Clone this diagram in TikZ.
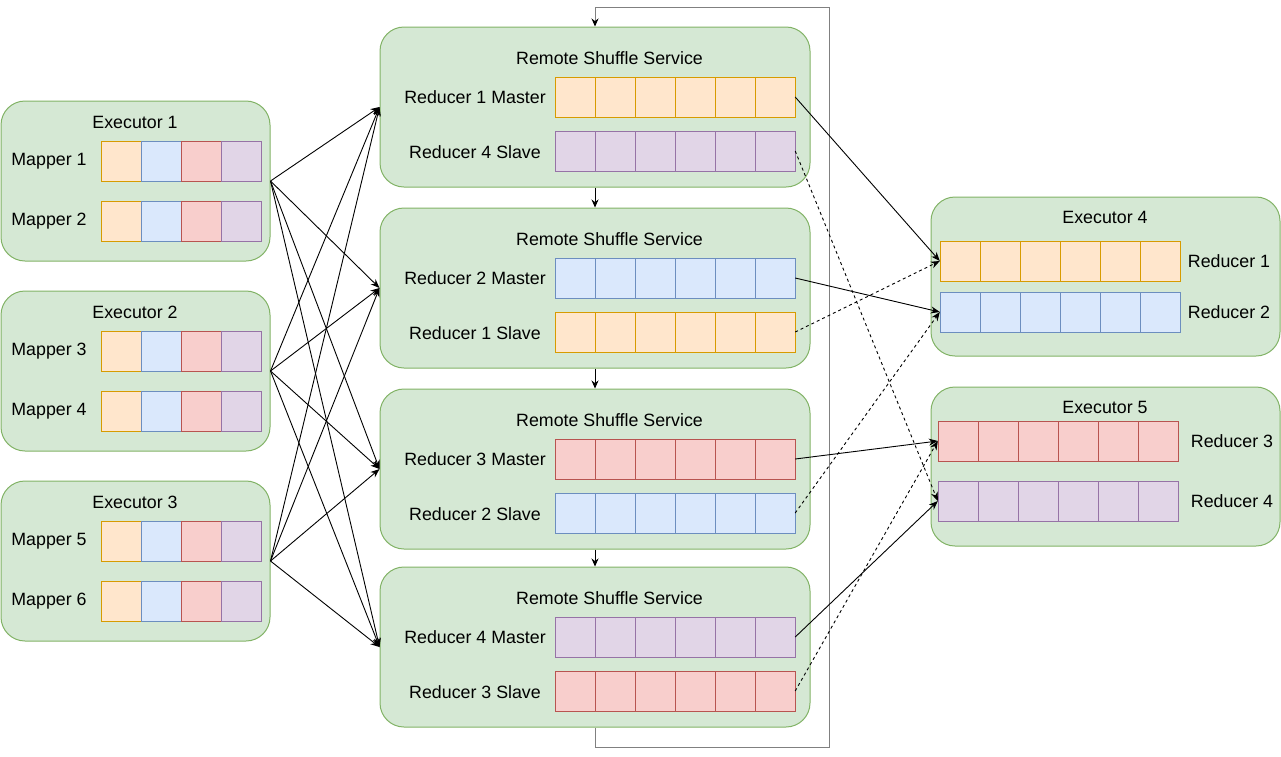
\documentclass[tikz,border=0pt]{standalone}
\usepackage{fontspec}
\setmainfont{Liberation Sans}
\usetikzlibrary{arrows.meta}
\definecolor{grF}{HTML}{D5E8D4}\definecolor{grD}{HTML}{82B366}
\definecolor{orF}{HTML}{FFE6CC}\definecolor{orD}{HTML}{D79B00}
\definecolor{blF}{HTML}{DAE8FC}\definecolor{blD}{HTML}{6C8EBF}
\definecolor{rdF}{HTML}{F8CECC}\definecolor{rdD}{HTML}{B85450}
\definecolor{puF}{HTML}{E1D5E7}\definecolor{puD}{HTML}{9673A6}
\definecolor{loopc}{HTML}{808080}
\newcommand\maprow[3]{% name, left x, centre y
  \foreach \f/\d [count=\i from 0] in {orF/orD,blF/blD,rdF/rdD,puF/puD}{
    \node[cell,fill=\f,draw=\d] (#1c\i) at (#2+20+40*\i,#3) {};}
  \node[rowbox,minimum width=160pt] (#1) at (#2+80,#3) {};}
\newcommand\redrow[5]{% name, left x, centre y, fill, draw
  \foreach \i in {0,...,5}{
    \node[cell,fill=#4,draw=#5] (#1c\i) at (#2+20+40*\i,#3) {};}
  \node[rowbox,minimum width=240pt] (#1) at (#2+120,#3) {};}
\begin{document}
\begin{tikzpicture}[x=1pt,y=-1pt,font=\fontsize{17.8}{21}\selectfont,
  box/.style={draw=grD,fill=grF,rounded corners=24pt,line width=1pt,inner sep=0pt},
  exbox/.style={box,minimum width=269pt,minimum height=160pt},
  rsbox/.style={box,minimum width=430pt,minimum height=160pt},
  cell/.style={minimum width=40pt,minimum height=40pt,inner sep=0pt,line width=1pt},
  rowbox/.style={minimum height=40pt,inner sep=0pt,draw=none},
  lbl/.style={inner sep=0pt,text=black},
  arr/.style={-{Stealth[length=9pt,width=7pt]},line width=0.9pt,black},
  dsh/.style={arr,dash pattern=on 3pt off 3pt},
  loopline/.style={draw=loopc,line width=1pt,-{Stealth[length=8pt,width=7pt,black]}}]
\useasboundingbox (0,0) rectangle (1281,756);
% left executors
\node[exbox] (ex1) at (135.5,181) {};
\node[exbox] (ex2) at (135.5,371) {};
\node[exbox] (ex3) at (135.5,561) {};
\node[lbl] (ex1t) at (135,122) {Executor 1};
\node[lbl] (ex2t) at (135,312) {Executor 2};
\node[lbl] (ex3t) at (135,502) {Executor 3};
\node[lbl] (mp1t) at (49,161) {Mapper 1};
\node[lbl] (mp2t) at (49,221) {Mapper 2};
\node[lbl] (mp3t) at (49,351) {Mapper 3};
\node[lbl] (mp4t) at (49,411) {Mapper 4};
\node[lbl] (mp5t) at (49,541) {Mapper 5};
\node[lbl] (mp6t) at (49,601) {Mapper 6};
\maprow{mp1}{101}{161}
\maprow{mp2}{101}{221}
\maprow{mp3}{101}{351}
\maprow{mp4}{101}{411}
\maprow{mp5}{101}{541}
\maprow{mp6}{101}{601}
% remote shuffle services
\node[rsbox] (rs1) at (595,107) {};
\node[rsbox] (rs2) at (595,288) {};
\node[rsbox] (rs3) at (595,469) {};
\node[rsbox] (rs4) at (595,647) {};
\node[lbl] (rs1t) at (609.5,58) {Remote Shuffle Service};
\node[lbl] (rs2t) at (609.5,239) {Remote Shuffle Service};
\node[lbl] (rs3t) at (609.5,420) {Remote Shuffle Service};
\node[lbl] (rs4t) at (609.5,598) {Remote Shuffle Service};
\node[lbl] (m1t) at (475,97) {Reducer 1 Master};
\node[lbl] (s4t) at (475,152) {Reducer 4 Slave};
\node[lbl] (m2t) at (475,278) {Reducer 2 Master};
\node[lbl] (s1t) at (475,333) {Reducer 1 Slave};
\node[lbl] (m3t) at (475,459) {Reducer 3 Master};
\node[lbl] (s2t) at (475,514) {Reducer 2 Slave};
\node[lbl] (m4t) at (475,637) {Reducer 4 Master};
\node[lbl] (s3t) at (475,692) {Reducer 3 Slave};
\redrow{m1}{555}{97}{orF}{orD}
\redrow{s4}{555}{151}{puF}{puD}
\redrow{m2}{555}{278}{blF}{blD}
\redrow{s1}{555}{332}{orF}{orD}
\redrow{m3}{555}{459}{rdF}{rdD}
\redrow{s2}{555}{513}{blF}{blD}
\redrow{m4}{555}{637}{puF}{puD}
\redrow{s3}{555}{691}{rdF}{rdD}
% right executors
\node[box,minimum width=349pt,minimum height=159pt] (ex4) at (1105.5,276.5) {};
\node[box,minimum width=349pt,minimum height=159pt] (ex5) at (1105.5,466.5) {};
\node[lbl] (ex4t) at (1105,217) {Executor 4};
\node[lbl] (ex5t) at (1105,407) {Executor 5};
\redrow{d1}{940}{261}{orF}{orD}
\redrow{d2}{940}{312}{blF}{blD}
\redrow{d3}{938}{441}{rdF}{rdD}
\redrow{d4}{938}{501}{puF}{puD}
\node[lbl] (d1t) at (1229,261) {Reducer 1};
\node[lbl] (d2t) at (1229,312) {Reducer 2};
\node[lbl] (d3t) at (1232,441) {Reducer 3};
\node[lbl] (d4t) at (1232,501) {Reducer 4};
% mapper executors to shuffle services
\foreach \e in {ex1,ex2,ex3}{
  \foreach \r in {rs1,rs2,rs3,rs4}{
    \draw[arr] (\e.east) -- (\r.west);}}
% chain of shuffle services
\draw[arr,line width=0.8pt,-{Stealth[length=8pt,width=7pt]}] (rs1.south) -- (rs2.north);
\draw[arr,line width=0.8pt,-{Stealth[length=8pt,width=7pt]}] (rs2.south) -- (rs3.north);
\draw[arr,line width=0.8pt,-{Stealth[length=8pt,width=7pt]}] (rs3.south) -- (rs4.north);
\coordinate (lpa) at (829,747);
\coordinate (lpb) at (829,7);
\draw[loopline] (rs4.south) -- (595,747) -- (lpa) -- (lpb) -- (595,7) -- (rs1.north);
% shuffle services to reducers
\draw[arr] (m1.east) -- (d1.west);
\draw[arr] (m2.east) -- (d2.west);
\draw[arr] (m3.east) -- (d3.west);
\draw[arr] (m4.east) -- (d4.west);
\draw[dsh] (s4.east) -- (d4.west);
\draw[dsh] (s1.east) -- (d1.west);
\draw[dsh] (s2.east) -- (d2.west);
\draw[dsh] (s3.east) -- (d3.west);
\end{tikzpicture}
\end{document}
